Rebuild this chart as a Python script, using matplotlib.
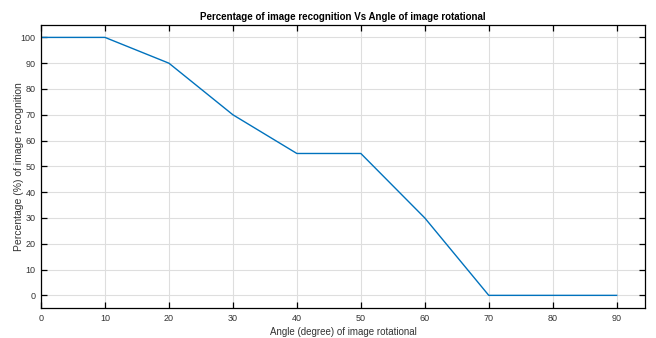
import matplotlib
matplotlib.use("Agg")
import matplotlib.pyplot as plt

angles = [0, 10, 20, 30, 40, 50, 60, 70, 80, 90]
recognition = [100, 100, 90, 70, 55, 55, 30, 0, 0, 0]
xticks = [0, 10, 20, 30, 40, 50, 60, 70, 80, 90]
yticks = [0, 10, 20, 30, 40, 50, 60, 70, 80, 90, 100]

plt.rcParams['font.family'] = ['Liberation Sans', 'DejaVu Sans']
fig = plt.figure(figsize=(6.56, 3.38), dpi=100)
ax = fig.add_axes([0.0625, 0.088, 0.9205, 0.8395])
ax.plot(angles, recognition, color='#0072BD', linewidth=1.0)
ax.set_xlim(0, 94.4)
ax.set_ylim(-5, 105)
ax.set_xticks(xticks)
ax.set_yticks(yticks)
ax.grid(True, color='#dedede', linewidth=0.8)
ax.set_axisbelow(True)
ax.tick_params(direction='in', length=4, width=0.9, top=True, right=True,
               labelsize=6.5, labelcolor='#333333', pad=4)
for s in ax.spines.values():
    s.set_linewidth(0.9)
ax.set_title('Percentage of image recognition Vs Angle of image rotational',
             fontsize=7, fontweight='bold', pad=3)
ax.set_xlabel('Angle (degree) of image rotational', fontsize=7, color='#333333', labelpad=3)
ax.set_ylabel('Percentage (%) of image recognition', fontsize=7.5, color='#333333', labelpad=1)
ax.yaxis.set_label_coords(-0.028, 0.5)
fig.savefig('out.png', dpi=100)
